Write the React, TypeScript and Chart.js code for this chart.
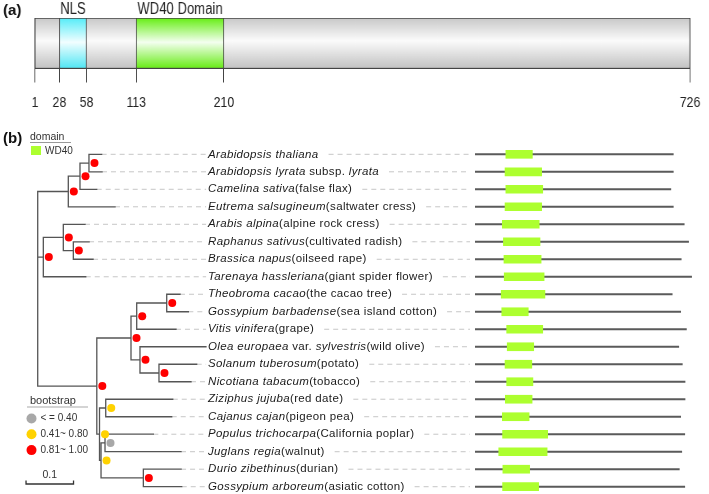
import React, { useEffect, useRef } from "react";
import { Chart, registerables } from "chart.js";
Chart.register(...registerables);

// ---------------- Panel (a): protein architecture ----------------
const PROTEIN_START = 1;
const PROTEIN_LENGTH = 726;
const PROTEIN_TICKS = [1, 28, 58, 113, 210, 726];
const A_DOMAIN_NAMES = ["NLS", "WD40 Domain"];
const A_DOMAIN_STARTS = [28, 113];
const A_DOMAIN_ENDS = [58, 210];

// ---------------- Panel (b): tree tips (in order) ----------------
const TIP_LABELS: [string, boolean][][] = [
  [["Arabidopsis thaliana", true]],
  [["Arabidopsis lyrata", true], [" subsp. ", false], ["lyrata", true]],
  [["Camelina sativa", true], ["(false flax)", false]],
  [["Eutrema salsugineum", true], ["(saltwater cress)", false]],
  [["Arabis alpina", true], ["(alpine rock cress)", false]],
  [["Raphanus sativus", true], ["(cultivated radish)", false]],
  [["Brassica napus", true], ["(oilseed rape)", false]],
  [["Tarenaya hassleriana", true], ["(giant spider flower)", false]],
  [["Theobroma cacao", true], ["(the cacao tree)", false]],
  [["Gossypium barbadense", true], ["(sea island cotton)", false]],
  [["Vitis vinifera", true], ["(grape)", false]],
  [["Olea europaea", true], [" var. ", false], ["sylvestris", true], ["(wild olive)", false]],
  [["Solanum tuberosum", true], ["(potato)", false]],
  [["Nicotiana tabacum", true], ["(tobacco)", false]],
  [["Ziziphus jujuba", true], ["(red date)", false]],
  [["Cajanus cajan", true], ["(pigeon pea)", false]],
  [["Populus trichocarpa", true], ["(California poplar)", false]],
  [["Juglans regia", true], ["(walnut)", false]],
  [["Durio zibethinus", true], ["(durian)", false]],
  [["Gossypium arboreum", true], ["(asiatic cotton)", false]],
];

// tree: nodes 0-19 are tips, 20-37 internal (37 = root)
const NODE_PARENT = [
  20, 20, 21, 22, 24, 23, 23, 25, 26, 26, 27, 29, 28, 28, 31, 31, 32, 32, 33, 33,
  21, 22, 37, 24, 25, 37, 27, 30, 29, 30, 36, 35, 34, 34, 35, 36, 37, -1,
];
const BRANCH_LENGTH = [
  0.0267, 0.0274, 0.0352, 0.0983, 0.0457, 0.0331, 0.0415, 0.0893, 0.028, 0.0455,
  0.0827, 0.1389, 0.0794, 0.0674, 0.1411, 0.1389, 0.1017, 0.16, 0.0794, 0.0808,
  0.0189, 0.0246, 0.0644, 0.0211, 0.0421, 0.0118, 0.0632, 0.012, 0.04, 0.0189,
  0.072, 0.0131, 0.0084, 0.0891, 0.0032, 0.0057, 0.1244, 0,
];
const BOOTSTRAP: (number | null)[] = [
  null, null, null, null, null, null, null, null, null, null,
  null, null, null, null, null, null, null, null, null, null,
  1.0, 0.98, 1.0, 1.0, 0.97, 0.91, 1.0, 0.95, 1.0, 0.99,
  0.93, 0.62, 0.35, 1.0, 0.55, 0.48, 0.88, null,
];
const BOOT_LEGEND = ["< = 0.40", "0.41~ 0.80", "0.81~ 1.00"];
const SCALE_BAR_VALUE = 0.1;

// ---------------- Panel (b): domains (aa) ----------------
const PROTEIN_LENGTHS = [726, 726, 717, 726, 766, 782, 755, 793, 722, 753, 774, 746, 759, 769, 769, 753, 768, 757, 748, 768];
const WD40_STARTS = [113, 110, 113, 110, 100, 104, 106, 107, 96, 98, 116, 118, 110, 116, 111, 100, 101, 87, 102, 101];
const WD40_ENDS = [210, 244, 248, 244, 235, 238, 242, 253, 256, 195, 248, 215, 208, 212, 209, 198, 266, 264, 200, 233];

// ---------------- layout / style constants ----------------
const FONT = "'Liberation Sans', Arial, Helvetica, sans-serif";
const SQUEEZE = 0.82; // panel (a) uses a condensed look
const A_WIDTH = Math.round(709 / SQUEEZE);
const ROW_MIN = -1.675;
const ROW_MAX = 19.417;
const TREE_X_MIN = -0.0794;
const TREE_X_MAX = 0.9101;
const LABEL_X = 0.3585;
const DOT_SHIFT = 0.0116;
const SCALE_BAR_START = -0.0246;
const DOMAIN_X_MAX = 856.7;
const LABEL_SIZE = 11.5;
const LABEL_TRACKING = "0.35px";
const GUIDE_COLOR = "#c6c6c6";
const RED = "#ff0000";
const YELLOW = "#ffd200";
const GRAY = "#a8a8a8";
const GREEN = "#adff2f";

const bootColor = (v: number) => (v <= 0.4 ? GRAY : v <= 0.8 ? YELLOW : RED);

// derived tree geometry
const N = NODE_PARENT.length;
const ROOT = NODE_PARENT.indexOf(-1);
const CHILDREN: number[][] = Array.from({ length: N }, () => []);
NODE_PARENT.forEach((p, i) => { if (p >= 0) CHILDREN[p].push(i); });
const DEPTH: number[] = new Array(N).fill(0);
const ROWY: number[] = new Array(N).fill(0);
(function walk(n: number, d: number) {
  DEPTH[n] = d;
  CHILDREN[n].forEach((c) => walk(c, d + BRANCH_LENGTH[c]));
  if (CHILDREN[n].length) {
    const ys = CHILDREN[n].map((c) => ROWY[c]);
    ROWY[n] = (Math.min(...ys) + Math.max(...ys)) / 2;
  } else ROWY[n] = n;
})(ROOT, 0);

const GAP = { x: NaN, y: NaN };
function branchPoints() {
  const pts: { x: number; y: number }[] = [];
  for (let n = 0; n < N; n++) {
    if (n !== ROOT) pts.push({ x: DEPTH[NODE_PARENT[n]], y: ROWY[n] }, { x: DEPTH[n], y: ROWY[n] }, GAP);
    if (CHILDREN[n].length) {
      const ys = CHILDREN[n].map((c) => ROWY[c]);
      pts.push({ x: DEPTH[n], y: Math.min(...ys) }, { x: DEPTH[n], y: Math.max(...ys) }, GAP);
    }
  }
  return pts;
}
function guidePoints() {
  const pts: { x: number; y: number }[] = [];
  TIP_LABELS.forEach((_, i) => {
    const end = LABEL_X - 0.004;
    if (DEPTH[i] < end) pts.push({ x: DEPTH[i], y: i }, { x: end, y: i }, GAP);
  });
  return pts;
}
const DOT_NODES = BOOTSTRAP.map((b, i) => (b === null ? -1 : i)).filter((i) => i >= 0);

const vgrad = (stops: [number, string][]) => (c: any) => {
  const area = c.chart.chartArea;
  if (!area) return stops[0][1];
  const g = c.chart.ctx.createLinearGradient(0, area.top, 0, area.bottom);
  stops.forEach(([o, col]) => g.addColorStop(o, col));
  return g;
};

const panelAText = {
  id: "panelAText",
  afterDraw(chart: any) {
    const { ctx, chartArea } = chart;
    const x = chart.scales.x;
    ctx.save();
    ctx.textBaseline = "middle";
    ctx.fillStyle = "#222";
    ctx.font = `16px ${FONT}`;
    ctx.textAlign = "center";
    A_DOMAIN_NAMES.forEach((name, i) => {
      const cx = (x.getPixelForValue(A_DOMAIN_STARTS[i]) + x.getPixelForValue(A_DOMAIN_ENDS[i])) / 2;
      ctx.fillText(name, cx, chartArea.top - 8.5);
    });
    // undo the horizontal squeeze for the panel letter
    ctx.scale(1 / SQUEEZE, 1);
    ctx.fillStyle = "#111";
    ctx.font = `bold 15px ${FONT}`;
    ctx.textAlign = "left";
    ctx.fillText("(a)", 3, 11);
    ctx.restore();
  },
};

const treeText = {
  id: "treeText",
  afterDatasetsDraw(chart: any) {
    const { ctx, chartArea } = chart;
    const { x, y } = chart.scales;
    ctx.save();
    ctx.textBaseline = "middle";
    ctx.textAlign = "left";
    TIP_LABELS.forEach((parts, i) => {
      let px = x.getPixelForValue(LABEL_X);
      const py = y.getPixelForValue(i);
      ctx.fillStyle = "#1a1a1a";
      (ctx as any).letterSpacing = LABEL_TRACKING;
      parts.forEach(([t, it]) => {
        ctx.font = `${it ? "italic " : ""}${LABEL_SIZE}px ${FONT}`;
        ctx.fillText(t, px, py);
        px += ctx.measureText(t).width;
      });
      (ctx as any).letterSpacing = "0px";
      ctx.beginPath();
      ctx.setLineDash([5, 4]);
      ctx.strokeStyle = GUIDE_COLOR;
      ctx.lineWidth = 1;
      ctx.moveTo(px + 10, py);
      ctx.lineTo(chartArea.right, py);
      ctx.stroke();
    });
    ctx.setLineDash([]);

    // (b) + domain legend
    ctx.fillStyle = "#111";
    ctx.font = `bold 15px ${FONT}`;
    ctx.fillText("(b)", 3, 13.5);
    ctx.fillStyle = "#333";
    ctx.font = `10.5px ${FONT}`;
    ctx.fillText("domain", 30, 12.5);
    ctx.strokeStyle = "#999";
    ctx.lineWidth = 1;
    ctx.beginPath();
    ctx.moveTo(30, 17.5);
    ctx.lineTo(71, 17.5);
    ctx.stroke();
    ctx.fillStyle = GREEN;
    ctx.fillRect(31, 21, 10, 9);
    ctx.fillStyle = "#333";
    ctx.font = `10px ${FONT}`;
    ctx.fillText("WD40", 45, 26);

    // bootstrap legend
    ctx.font = `11px ${FONT}`;
    ctx.fillText("bootstrap", 30, 275.5);
    ctx.strokeStyle = "#aaa";
    ctx.lineWidth = 1.2;
    ctx.beginPath();
    ctx.moveTo(27, 282);
    ctx.lineTo(88, 282);
    ctx.stroke();
    [GRAY, YELLOW, RED].forEach((col, k) => {
      const cy = 293.5 + k * 15.8;
      ctx.fillStyle = col;
      ctx.beginPath();
      ctx.arc(31.5, cy, 5, 0, Math.PI * 2);
      ctx.fill();
      ctx.fillStyle = "#333";
      ctx.font = `10px ${FONT}`;
      ctx.fillText(BOOT_LEGEND[k], 40.5, cy);
    });

    // scale bar
    const x0 = x.getPixelForValue(SCALE_BAR_START);
    const x1 = x.getPixelForValue(SCALE_BAR_START + SCALE_BAR_VALUE);
    ctx.strokeStyle = "#333";
    ctx.lineWidth = 1.3;
    ctx.beginPath();
    ctx.moveTo(x0, 355.5);
    ctx.lineTo(x0, 359);
    ctx.lineTo(x1, 359);
    ctx.lineTo(x1, 355.5);
    ctx.stroke();
    ctx.fillStyle = "#333";
    ctx.font = `10.5px ${FONT}`;
    ctx.textAlign = "center";
    ctx.fillText(String(SCALE_BAR_VALUE), (x0 + x1) / 2, 350.5);
    ctx.restore();
  },
};

export default function App() {
  const aRef = useRef<HTMLCanvasElement>(null);
  const bRef = useRef<HTMLCanvasElement>(null);
  const cRef = useRef<HTMLCanvasElement>(null);

  useEffect(() => {
    Chart.defaults.font.family = FONT;
    const common = {
      responsive: false,
      animation: false as const,
      events: [] as any[],
      plugins: { legend: { display: false }, tooltip: { enabled: false } },
    };

    const barStyle = {
      borderColor: "#444",
      borderWidth: 1,
      borderSkipped: false,
      grouped: false,
      barPercentage: 1,
      categoryPercentage: 1,
    };

    const chartA = new Chart(aRef.current!, {
      type: "bar",
      data: {
        labels: ["protein"],
        datasets: [
          {
            label: A_DOMAIN_NAMES[0],
            data: [[A_DOMAIN_STARTS[0], A_DOMAIN_ENDS[0]]] as any,
            backgroundColor: vgrad([[0, "#55ecf8"], [0.48, "#f2feff"], [1, "#4fe6f4"]]),
            ...barStyle,
          },
          {
            label: A_DOMAIN_NAMES[1],
            data: [[A_DOMAIN_STARTS[1], A_DOMAIN_ENDS[1]]] as any,
            backgroundColor: vgrad([[0, "#66ee14"], [0.48, "#f4fff0"], [1, "#66ec14"]]),
            ...barStyle,
          },
          {
            label: "protein",
            data: [[PROTEIN_START, PROTEIN_LENGTH]] as any,
            backgroundColor: vgrad([[0, "#c8c8c8"], [0.45, "#fbfbfb"], [1, "#c2c2c2"]]),
            ...barStyle,
          },
        ],
      },
      options: {
        ...common,
        indexAxis: "y",
        layout: { autoPadding: false, padding: { top: 18, left: 35 / SQUEEZE, right: A_WIDTH - 696 / SQUEEZE, bottom: 1 } },
        scales: {
          x: {
            type: "linear",
            min: PROTEIN_START,
            max: PROTEIN_LENGTH,
            z: 1,
            afterBuildTicks: (s: any) => {
              s.ticks = PROTEIN_TICKS.map((v) => ({ value: v }));
            },
            ticks: {
              autoSkip: false,
              maxRotation: 0,
              minRotation: 0,
              padding: 11,
              color: "#222",
              font: { family: FONT, size: 15 },
              callback: (v: any) => String(v),
            },
            grid: { color: "#444", tickColor: "#444", tickLength: 14, drawOnChartArea: true, lineWidth: 1 },
            border: { display: true, color: "#444" },
          },
          y: { display: false },
        },
      } as any,
      plugins: [panelAText],
    });

    const chartB = new Chart(bRef.current!, {
      type: "scatter",
      data: {
        datasets: [
          {
            label: "bootstrap",
            data: DOT_NODES.map((n) => ({ x: DEPTH[n] + DOT_SHIFT, y: ROWY[n] })),
            pointRadius: 4,
            pointBorderWidth: 0,
            pointBackgroundColor: DOT_NODES.map((n) => bootColor(BOOTSTRAP[n] as number)),
          },
          {
            type: "line",
            label: "branches",
            data: branchPoints(),
            showLine: true,
            spanGaps: false,
            borderColor: "#555",
            borderWidth: 1.3,
            borderCapStyle: "square",
            pointRadius: 0,
            tension: 0,
          } as any,
          {
            type: "line",
            label: "guides",
            data: guidePoints(),
            showLine: true,
            spanGaps: false,
            borderColor: GUIDE_COLOR,
            borderWidth: 1,
            borderDash: [5, 4],
            pointRadius: 0,
            tension: 0,
          } as any,
        ],
      },
      options: {
        ...common,
        layout: { autoPadding: false, padding: 0 },
        scales: {
          x: { type: "linear", min: TREE_X_MIN, max: TREE_X_MAX, display: false },
          y: { type: "linear", min: ROW_MIN, max: ROW_MAX, reverse: true, display: false },
        },
      } as any,
      plugins: [treeText],
    });

    const chartC = new Chart(cRef.current!, {
      type: "bar",
      data: {
        datasets: [
          {
            label: "WD40",
            data: WD40_STARTS.map((s, i) => ({ x: [s, WD40_ENDS[i]], y: i })) as any,
            backgroundColor: GREEN,
            borderWidth: 0,
            barThickness: 8,
            grouped: false,
          },
          {
            label: "protein",
            data: PROTEIN_LENGTHS.map((l, i) => ({ x: [0, l], y: i })) as any,
            backgroundColor: "#5a5a5a",
            borderWidth: 0,
            barThickness: 1.4,
            grouped: false,
          },
        ],
      },
      options: {
        ...common,
        indexAxis: "y",
        layout: { autoPadding: false, padding: 0 },
        scales: {
          x: { type: "linear", min: 0, max: DOMAIN_X_MAX, display: false },
          y: { type: "linear", min: ROW_MIN, max: ROW_MAX, reverse: true, offset: false, display: false },
        },
      } as any,
    });

    return () => {
      chartA.destroy();
      chartB.destroy();
      chartC.destroy();
    };
  }, []);

  return (
    <div style={{ position: "fixed", left: 0, top: 0, width: 709, height: 494, overflow: "hidden", background: "#fff" }}>
      <canvas
        ref={aRef}
        width={A_WIDTH}
        height={120}
        style={{ position: "absolute", left: 0, top: 0, transform: `scaleX(${SQUEEZE})`, transformOrigin: "0 0" }}
      />
      <canvas ref={bRef} width={470} height={369} style={{ position: "absolute", left: 0, top: 125 }} />
      <canvas ref={cRef} width={234} height={369} style={{ position: "absolute", left: 475, top: 125 }} />
    </div>
  );
}
